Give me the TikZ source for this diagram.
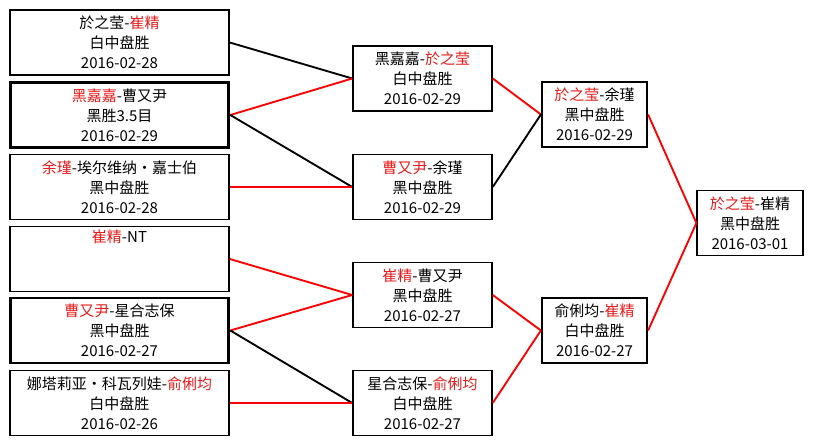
\documentclass[tikz,border=0pt]{standalone}
\usepackage{fontspec}
\setmainfont{Noto Sans CJK SC}
\definecolor{winred}{RGB}{235,25,25}
\newcommand{\win}[1]{\textcolor{winred}{#1}}

\begin{document}
\begin{tikzpicture}[x=0.75pt, y=-0.75pt,
  match/.style={draw, line width=1.4pt, align=center, inner sep=0pt,
    font=\fontsize{11.25}{15}\selectfont, minimum height=48.75pt},
  wide/.style={match, minimum width=164pt},
  mid/.style={match, minimum width=104pt},
  narrow/.style={match, minimum width=79pt},
  heavy/.style={line width=2.2pt},
  won/.style={red, line width=1.4pt},
  lost/.style={black, line width=1.4pt}]
  \useasboundingbox[fill=white] (0,0) rectangle (814,445);

  % --- round 1 ---
  \node[wide] (q1) at (119.5,42.5) {於之莹-\win{崔精}\\白中盘胜\\2016-02-28};
  \node[wide, heavy] (q2) at (119.5,115) {\win{黑嘉嘉}-曹又尹\\黑胜3.5目\\2016-02-29};
  \node[wide] (q3) at (119.5,187) {\win{余瑾}-埃尔维纳・嘉士伯\\黑中盘胜\\2016-02-28};
  \node[wide] (q4) at (119.5,259) {\win{崔精}-NT\\\strut\\\strut};
  \node[wide, heavy] (q5) at (119.5,330.5) {\win{曹又尹}-星合志保\\黑中盘胜\\2016-02-27};
  \node[wide] (q6) at (119.5,403) {娜塔莉亚・科瓦列娃-\win{俞俐均}\\白中盘胜\\2016-02-26};

  % --- round 2 ---
  \node[mid] (s1) at (422.5,78.5) {黑嘉嘉-\win{於之莹}\\白中盘胜\\2016-02-29};
  \node[mid] (s2) at (422.5,187) {\win{曹又尹}-余瑾\\黑中盘胜\\2016-02-29};
  \node[mid] (s3) at (422.5,295) {\win{崔精}-曹又尹\\黑中盘胜\\2016-02-27};
  \node[mid] (s4) at (422.5,403) {星合志保-\win{俞俐均}\\白中盘胜\\2016-02-27};

  % --- semi-finals ---
  \node[narrow] (f1) at (594.5,114.5) {\win{於之莹}-余瑾\\黑中盘胜\\2016-02-29};
  \node[narrow] (f2) at (594.5,330.5) {俞俐均-\win{崔精}\\白中盘胜\\2016-02-27};

  % --- final ---
  \node[narrow] (champ) at (750,223) {\win{於之莹}-崔精\\黑中盘胜\\2016-03-01};

  % connectors
  \draw[lost] (q1.east) -- (s1.west);
  \draw[won]  (q2.east) -- (s1.west);
  \draw[lost] (q2.east) -- (s2.west);
  \draw[won]  (q3.east) -- (s2.west);
  \draw[won]  (q4.east) -- (s3.west);
  \draw[won]  (q5.east) -- (s3.west);
  \draw[lost] (q5.east) -- (s4.west);
  \draw[won]  (q6.east) -- (s4.west);

  \draw[won]  (s1.east) -- (f1.west);
  \draw[lost] (s2.east) -- (f1.west);
  \draw[won]  (s3.east) -- (f2.west);
  \draw[won]  (s4.east) -- (f2.west);

  \draw[won]  (f1.east) -- (champ.west);
  \draw[won]  (f2.east) -- (champ.west);
\end{tikzpicture}
\end{document}
